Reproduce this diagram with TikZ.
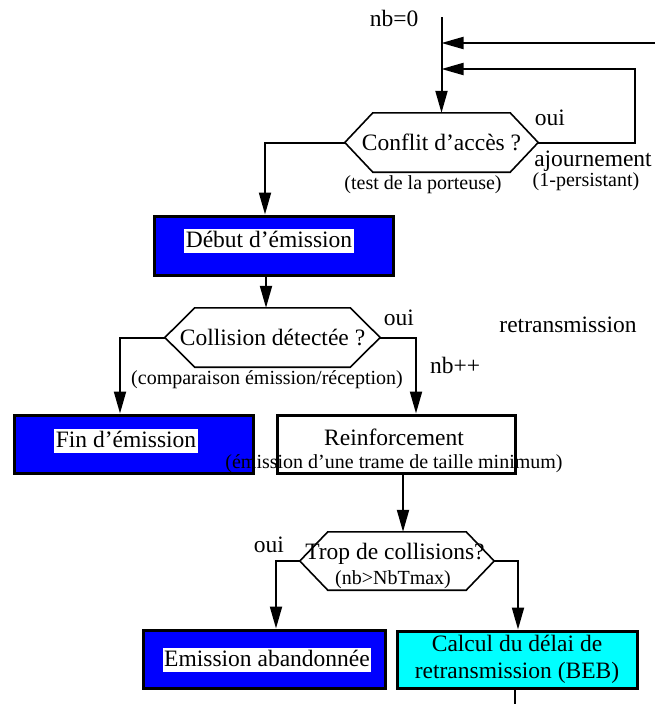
\documentclass[tikz,border=0pt]{standalone}
\usepackage{fontspec}
\setmainfont{Liberation Serif}
\usetikzlibrary{arrows.meta,calc}
\definecolor{boxblue}{RGB}{0,0,255}
\definecolor{boxcyan}{RGB}{0,255,255}
\newcommand{\bigf}{\fontsize{23.5}{26}\selectfont}
\newcommand{\smallf}{\fontsize{20}{23}\selectfont}
\tikzset{
  conn/.style={line width=2pt},
  arr/.style={conn,-{Triangle[length=22pt,width=12pt]}},
  boxst/.style={draw=black,line width=3pt,rectangle,inner sep=0pt},
  hexnode/.style={rectangle,inner sep=0pt,font=\bigf},
  hexline/.style={line width=1.6pt,line join=miter},
  big/.style={inner sep=0pt,font=\bigf},
  small/.style={inner sep=0pt,font=\smallf},
  wbg/.style={fill=white,inner xsep=1.5pt,inner ysep=1pt,text height=17pt,text depth=5pt,font=\bigf}
}
\begin{document}
\begin{tikzpicture}[x=1pt,y=-1pt]
\useasboundingbox (0,0) rectangle (655,704);
\fill[white] (0,0) rectangle (655,704);

% hexagon nodes
\node[hexnode,minimum width=193pt,minimum height=59pt] (conf) at (441.5,142.5) {Conflit d’accès ?};
\node[hexnode,minimum width=215pt,minimum height=59pt] (coll) at (272.5,337.5) {Collision détectée ?};
\node[hexnode,minimum width=194pt,minimum height=58pt] (trop) at (397,561) {};
\foreach \n/\s in {conf/28,coll/30,trop/28}
  \draw[hexline] (\n.west) -- ([xshift=\s pt]\n.north west) -- ([xshift=-\s pt]\n.north east)
     -- (\n.east) -- ([xshift=-\s pt]\n.south east) -- ([xshift=\s pt]\n.south west) -- cycle;

% boxes
\node[boxst,fill=boxblue,minimum width=239pt,minimum height=59pt] (debut) at (273.5,245.5) {};
\node[boxst,fill=boxblue,minimum width=239pt,minimum height=58pt] (fin) at (133.5,444) {};
\node[small] (reinfsub) at (394,464) {(émission d’une trame de taille minimum)};
\node[boxst,minimum width=238pt,minimum height=58pt] (reinf) at (396,444) {};
\node[boxst,fill=boxblue,minimum width=242pt,minimum height=58pt] (emis) at (264,659) {};
\node[boxst,fill=boxcyan,minimum width=240pt,minimum height=57pt] (calc) at (517,659.5) {};

% box texts
\node[wbg] (debutt) at (269,241) {Début d’émission};
\node[wbg] (fint) at (126,441) {Fin d’émission};
\node[wbg] (emist) at (267,660) {Emission abandonnée};
\node[big] (reinft) at (394,437) {Reinforcement};
\node[big] (calct1) at (517,643) {Calcul du délai de};
\node[big] (calct2) at (517,673) {retransmission (BEB)};
\node[big] (tropt) at (395,554) {Trop de collisions?};
\node[small] (tropsub) at (393,580) {(nb>NbTmax)};

% free labels
\node[big] (nb0) at (394,18) {nb=0};
\node[big] (oui1) at (550,118) {oui};
\node[big] (ajourn) at (593,161) {ajournement};
\node[small] (persist) at (586,182) {(1-persistant)};
\node[small] (testp) at (423,185) {(test de la porteuse)};
\node[big] (oui2) at (399,318) {oui};
\node[big] (nbpp) at (455,365) {nb++};
\node[big] (retr) at (568,325) {retransmission};
\node[small] (compar) at (267,380) {(comparaison émission/réception)};
\node[big] (oui3) at (269,545) {oui};

% connectors
\coordinate (top) at (441.5,17);
\coordinate (in1) at (655,43);
\coordinate (loop) at (635,69);
\coordinate (endc) at (515,704);
\draw[arr] (top) -- (conf.north);
\draw[arr] (in1) -- (in1 -| top);
\draw[arr] (conf.east) -| (loop) -- (loop -| top);
\draw[arr] (conf.west) -| ([xshift=-8.5pt]debut.north);
\draw[arr] ([xshift=-7.5pt]debut.south) coordinate (d1) -- (d1 |- coll.north);
\draw[arr] (coll.west) -| ([xshift=-13.5pt]fin.north);
\draw[arr] (coll.east) -| ([xshift=20pt]reinf.north);
\draw[arr] ([xshift=7pt]reinf.south) coordinate (r1) -- (r1 |- trop.north);
\draw[arr] (trop.west) -| ([xshift=12pt]emis.north);
\draw[arr] (trop.east) -| ([xshift=1pt]calc.north);
\draw[conn] ([xshift=-2pt]calc.south) -- (endc);
\end{tikzpicture}
\end{document}
